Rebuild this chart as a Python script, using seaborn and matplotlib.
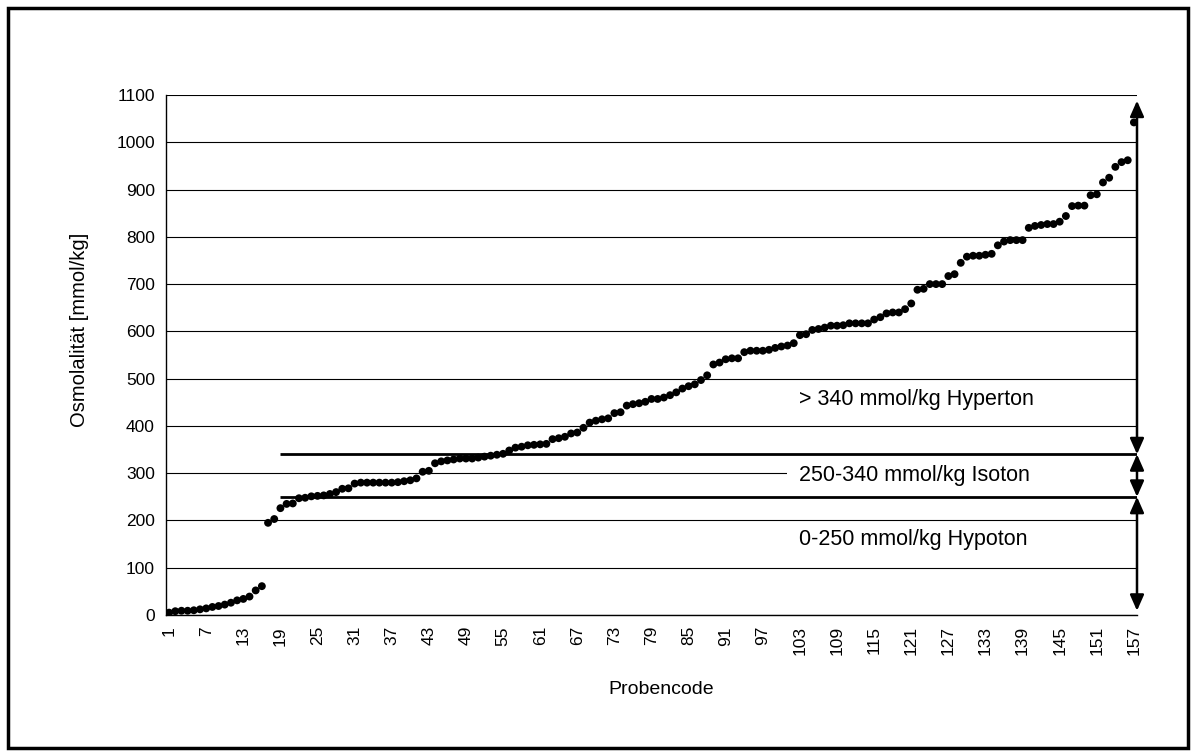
import numpy as np
import pandas as pd
import matplotlib
matplotlib.use("Agg")
import matplotlib.pyplot as plt
from matplotlib.patches import Rectangle
import seaborn as sns

# ---- data ----
osm_1_16 = [5, 8, 9, 9, 10, 12, 14, 17, 19, 22, 26, 31, 34, 39, 52, 61]
osm_17_30 = [195, 203, 226, 235, 236, 247, 248, 251, 252, 253, 256, 260, 267, 268]
osm_31_43 = [278, 280, 280, 280, 280, 280, 280, 281, 283, 285, 289, 303, 305]
osm_44_55 = [321, 325, 327, 329, 331, 331, 331, 333, 335, 337, 339, 341]
osm_56_62 = [348, 354, 356, 359, 360, 361, 362]
osm_63_74 = [372, 374, 377, 384, 386, 396, 407, 411, 414, 416, 427, 429]
osm_75_87 = [443, 446, 448, 451, 457, 457, 460, 465, 471, 479, 484, 488, 497]
osm_88_102 = [507, 530, 534, 541, 543, 543, 556, 559, 559, 559, 561, 565, 568, 570, 575]
osm_103_116 = [592, 594, 603, 605, 608, 612, 612, 613, 617, 617, 617, 617, 625, 630]
osm_117_139 = [638, 640, 640, 647, 659, 688, 690, 700, 700, 700, 717, 721, 745, 758,
               760, 760, 762, 764, 782, 790, 793, 793, 793]
osm_140_157 = [819, 823, 825, 827, 827, 832, 844, 865, 866, 866, 888, 890, 915, 925,
               948, 958, 962, 1042]

osmolality = (osm_1_16 + osm_17_30 + osm_31_43 + osm_44_55 + osm_56_62 + osm_63_74 +
              osm_75_87 + osm_88_102 + osm_103_116 + osm_117_139 + osm_140_157)
probe_codes = list(range(1, len(osmolality) + 1))
tick_labels = list(range(1, 158, 6))
y_ticks = list(range(0, 1101, 100))

hypo_limit = 250
hyper_limit = 340
band_texts = ["> 340 mmol/kg Hyperton", "250-340 mmol/kg Isoton", "0-250 mmol/kg Hypoton"]
band_text_y = [455, 295, 159]

df = pd.DataFrame({"Probencode": probe_codes, "Osmolalitaet": osmolality})

# ---- style ----
sns.set_style("white")
plt.rcParams["font.family"] = ["Liberation Sans", "DejaVu Sans"]
plt.rcParams["text.color"] = "black"
plt.rcParams["axes.labelcolor"] = "black"
plt.rcParams["xtick.color"] = "black"
plt.rcParams["ytick.color"] = "black"

fig = plt.figure(figsize=(11.96, 7.56), dpi=100)
ax = fig.add_axes([166 / 1196, 141 / 756, 971 / 1196, 520 / 756])

sns.scatterplot(data=df, x="Probencode", y="Osmolalitaet", color="black", s=32,
                edgecolor="none", linewidth=0, ax=ax, zorder=3, legend=False)

ax.set_xlim(0.5, len(osmolality) + 0.5)
ax.set_ylim(0, 1100)

# grid
ax.set_axisbelow(True)
ax.yaxis.grid(True, color="black", linewidth=0.8)
ax.xaxis.grid(False)

# spines
for s in ["top", "right"]:
    ax.spines[s].set_visible(False)
for s in ["left", "bottom"]:
    ax.spines[s].set_color("black")
    ax.spines[s].set_linewidth(1.0)

# ticks
ax.set_yticks(y_ticks)
ax.set_yticklabels([str(v) for v in y_ticks], fontsize=12.5, color="black")
ax.tick_params(axis="y", direction="inout", length=8, width=0.8, color="black", pad=4)

ax.set_xticks(tick_labels)
ax.set_xticklabels([str(v) for v in tick_labels], rotation=90, fontsize=12.5, color="black")
ax.set_xticks(np.arange(0.5, len(osmolality) + 1, 1.0), minor=True)
ax.tick_params(axis="x", which="major", length=0, pad=8)
ax.tick_params(axis="x", which="minor", direction="out", length=5, width=0.8, color="black")

ax.set_xlabel("Probencode", fontsize=14, color="black")
ax.set_ylabel("Osmolalität [mmol/kg]", fontsize=14.5, color="black")
ax.xaxis.label.set_va("center")
ax.yaxis.label.set_va("center")
ax.xaxis.set_label_coords(0.51, -0.144)
ax.yaxis.set_label_coords(-0.0886, 0.548)

# threshold lines
x_right = len(osmolality) + 0.5
line_start = 19
for lim in [hypo_limit, hyper_limit]:
    ax.plot([line_start, x_right], [lim, lim], color="black", lw=2.0, zorder=2,
            solid_capstyle="butt")

# white box hiding grid behind the isoton text
ax.add_patch(Rectangle((100.9, 282), x_right - 100.9 - 0.2, 34, facecolor="white",
                       edgecolor="none", zorder=1))

# band labels
for txt, yv in zip(band_texts, band_text_y):
    ax.text(102.8, yv, txt, fontsize=15.5, ha="left", va="center", zorder=4, color="black")

# double-headed arrows
arrow_kw = dict(arrowstyle="<|-|>,head_length=0.95,head_width=0.42", color="black",
                lw=1.8, shrinkA=0, shrinkB=0, mutation_scale=10)
for lo, hi in [(9, hypo_limit), (hypo_limit, hyper_limit), (hyper_limit, 1088)]:
    ax.annotate("", xy=(x_right, hi), xytext=(x_right, lo),
                arrowprops=arrow_kw, annotation_clip=False, zorder=5)

# figure frame
fig.add_artist(Rectangle((8 / 1196, 8 / 756), 1180 / 1196, 740 / 756,
                         transform=fig.transFigure, fill=False, edgecolor="black",
                         linewidth=2.5))

fig.savefig("out.png", dpi=100)
